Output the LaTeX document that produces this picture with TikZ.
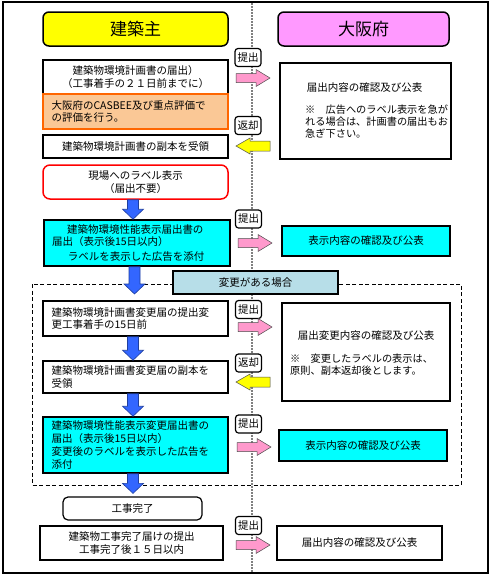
\documentclass[tikz,border=0pt]{standalone}
\usepackage{fontspec}
\setmainfont{Noto Sans CJK JP}
\usetikzlibrary{calc}
\definecolor{hyellow}{HTML}{FFFF00}
\definecolor{hviolet}{HTML}{FF99FF}
\definecolor{pinkarr}{HTML}{FF99CC}
\definecolor{cyanf}{HTML}{00FFFF}
\definecolor{orangef}{HTML}{FAC896}
\definecolor{orangeb}{HTML}{FF6600}
\definecolor{lblue}{HTML}{B7DEE8}
\definecolor{barrow}{HTML}{3366FF}
\definecolor{barrowb}{HTML}{1F3F9F}
\definecolor{dotgray}{HTML}{808080}
\newcommand\jbody{\fontsize{10.5}{12.5}\selectfont}
\newcommand\jnote{\fontsize{10.2}{11.8}\selectfont}
\newcommand\jhead{\fontsize{17}{20}\selectfont}
\newcommand\bdarrow[2]{%
  \path (#1) coordinate (ba1) (#2) coordinate (ba2);
  \draw[bluearr] let \p1=(ba1), \p2=(ba2) in
    (\x1-8pt,\y1) -- (\x1+3pt,\y1) -- (\x1+3pt,\y2+10pt) -- (\x1+8pt,\y2+10pt)
    -- (\x1-2.5pt,\y2) -- (\x1-13pt,\y2+10pt) -- (\x1-8pt,\y2+10pt) -- cycle;}
\newcommand\rtarrow[2]{%
  \draw[pinkarrow] (#1,#2-4.5) -- (#1+20,#2-4.5) -- (#1+20,#2-8.5) -- (#1+34,#2)
    -- (#1+20,#2+8.5) -- (#1+20,#2+4.5) -- (#1,#2+4.5) -- cycle;}
\newcommand\ltarrow[2]{%
  \draw[yelarrow] (#1+34,#2-5) -- (#1+14,#2-5) -- (#1+14,#2-8) -- (#1,#2)
    -- (#1+14,#2+8) -- (#1+14,#2+5) -- (#1+34,#2+5) -- cycle;}
\tikzset{
  box/.style={draw, line width=1.5pt, inner sep=0pt, font=\jbody, align=center,
    minimum width=185pt, text=black},
  lbox/.style={box, align=left, text width=168pt, inner xsep=8.5pt},
  txt/.style={inner sep=0pt, font=\jbody, align=center},
  notetxt/.style={inner sep=0pt, font=\jnote, align=left, anchor=west},
  lbl/.style={draw, fill=white, line width=1.2pt, rounded corners=3pt, inner sep=0pt,
    minimum width=26pt, minimum height=18pt, font=\jbody},
  bluearr/.style={fill=barrow, draw=barrowb, line width=0.6pt},
  pinkarrow/.style={fill=pinkarr, draw=black!70, line width=0.5pt},
  yelarrow/.style={fill=hyellow, draw=black!70, line width=0.5pt},
}
\begin{document}
\begin{tikzpicture}[x=1pt,y=-1pt]
\useasboundingbox (0,0) rectangle (492,576);
\fill[white] (0,0) rectangle (492,576);
\draw[line width=1.5pt] (3,2) rectangle (488,573);
\coordinate (dtop) at (252,3);
\coordinate (dbot) at (252,572);
\draw[dotgray, line width=1.5pt, dash pattern=on 1.5pt off 1.5pt] (dtop) -- (dbot);
\draw[line width=0.9pt, dash pattern=on 4pt off 2.5pt] (32,284) rectangle (461,485);

% headers
\node[box, fill=hyellow, rounded corners=6pt, minimum height=34pt, font=\jhead] (h1) at (135.5,29) {建築主};
\node[box, fill=hviolet, rounded corners=6pt, minimum width=171pt, minimum height=34pt, font=\jhead] (h2) at (363.5,29) {大阪府};

% left column
\node[box, minimum height=34pt] (l1) at (135.5,77) {建築物環境計画書の届出）\\（工事着手の２１日前までに）};
\node[lbox, draw=orangeb, fill=orangef, minimum height=35pt] (l2) at (135.5,111.5) {大阪府のCASBEE及び重点評価で\\の評価を行う。};
\node[box, minimum height=23pt] (l3) at (135.5,146.5) {建築物環境計画書の副本を受領};
\node[box, draw=red, rounded corners=7pt, minimum height=34pt] (l4) at (135.5,182) {現場へのラベル表示\\（届出不要）};
\node[lbox, fill=cyanf, text width=170pt, inner xsep=8pt, minimum height=46pt] (l5) at (137,243) {\hspace*{15pt}建築物環境性能表示届出書の\\届出（表示後15日以内）\\[2.5pt]\hspace*{16pt}ラベルを表示した広告を添付};
\node[box, fill=lblue, minimum width=165pt, minimum height=23pt] (chg) at (255.5,282.5) {変更がある場合};
\node[lbox, minimum height=35pt] (l6) at (135.5,318.5) {建築物環境計画書変更届の提出変\\更工事着手の15日前};
\node[lbox, minimum height=32pt] (l7) at (135.5,377) {建築物環境計画書変更届の副本を\\受領};
\node[lbox, fill=cyanf, minimum height=56pt, font=\fontsize{10.5}{13}\selectfont] (l8) at (135.5,445) {建築物環境性能表示変更届出書の\\届出（表示後15日以内）\\変更後のラベルを表示した広告を\\添付};
\node[box, line width=1.2pt, rounded corners=5pt, minimum width=139pt, minimum height=23pt] (l9) at (132.5,508.5) {工事完了};
\node[box, minimum width=183pt, minimum height=34pt] (l10) at (131.5,543) {建築物工事完了届けの提出\\工事完了後１５日以内};

% right column
\node[box, minimum width=171pt, minimum height=96pt] (r1) at (365.5,111) {};
\node[txt] (r1a) at (364.5,88) {届出内容の確認及び公表};
\node[notetxt] (r1b) at (305,121.5) {※　広告へのラベル表示を急が\\れる場合は、計画書の届出もお\\急ぎ下さい。};
\node[box, fill=cyanf, minimum width=168pt, minimum height=30pt] (r2) at (366,241) {表示内容の確認及び公表};
\node[box, minimum width=168pt, minimum height=98pt] (r3) at (366,352) {};
\node[txt] (r3a) at (366,336) {届出変更内容の確認及び公表};
\node[notetxt] (r3b) at (290,365) {※　変更したラベルの表示は、\\原則、副本返却後とします。};
\node[box, fill=cyanf, minimum width=168pt, minimum height=31pt] (r4) at (363,445.5) {表示内容の確認及び公表};
\node[box, minimum width=165pt, minimum height=34pt] (r5) at (359.5,543) {届出内容の確認及び公表};

% blue down arrows
\coordinate (c2) at (135.5,294);
\bdarrow{l4.south}{l5.north}
\bdarrow{l5.south}{c2}
\bdarrow{l6.south}{l7.north}
\bdarrow{l7.south}{l8.north}
\bdarrow{l8.south}{$(l9.north)+(0,-3)$}

% labels and side arrows
\node[lbl] (t1) at (248,57.5) {提出};
\rtarrow{236}{78}
\node[lbl] (t2) at (248,125.5) {返却};
\ltarrow{236}{146}
\node[lbl] (t3) at (248.5,219) {提出};
\rtarrow{238}{243}
\node[lbl] (t4) at (248.5,309.5) {提出};
\rtarrow{238}{327}
\node[lbl] (t5) at (248.5,363) {返却};
\ltarrow{236}{382}
\node[lbl] (t6) at (248.5,424) {提出};
\rtarrow{237}{447}
\node[lbl] (t7) at (248.5,525.5) {提出};
\rtarrow{236}{545}
\end{tikzpicture}
\end{document}
